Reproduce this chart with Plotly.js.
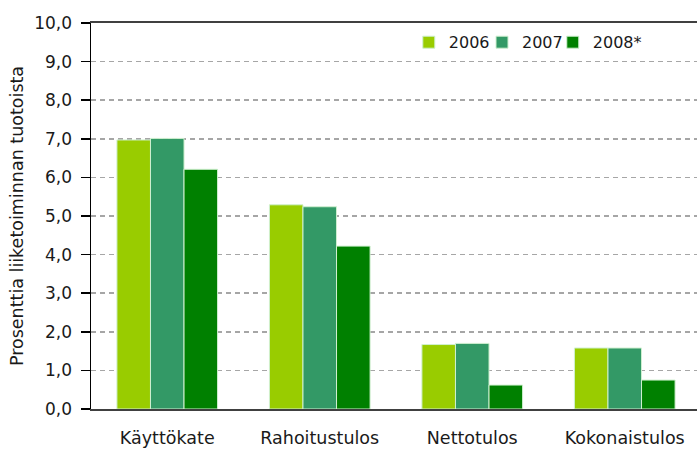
<!DOCTYPE html>
<html>
<head>
<meta charset="utf-8">
<script src="https://cdn.plot.ly/plotly-3.0.1.min.js"></script>
<style>
html,body{margin:0;padding:0;overflow:hidden;background:#fff;}
#chart{width:701px;height:450px;}
</style>
</head>
<body>
<div id="chart"></div>
<script>
const categories = ["Käyttökate", "Rahoitustulos", "Nettotulos", "Kokonaistulos"];
const seriesNames = ["2006", "2007", "2008*"];
const values2006 = [6.97, 5.29, 1.67, 1.58];
const values2007 = [7.01, 5.24, 1.70, 1.58];
const values2008 = [6.21, 4.22, 0.62, 0.75];
const colors = ["#99CC00", "#339966", "#008000"];
const yTicks = [0,1,2,3,4,5,6,7,8,9,10];

const legendIds = ["legend", "legend2", "legend3"];
const allValues = [values2006, values2007, values2008];
const traces = allValues.map((v, i) => ({
  type: "bar",
  name: seriesNames[i],
  x: categories,
  y: v,
  legend: legendIds[i],
  marker: {color: colors[i], line: {color: "#d0f0d0", width: 1}},
  hoverinfo: "x+y"
}));

const font = "DejaVu Sans, Verdana, sans-serif";
const legendX = [0.521, 0.641, 0.757];
function legendCfg(x) {
  return {
    orientation: "h",
    x: x, xanchor: "left",
    y: 0.95, yanchor: "middle",
    font: {family: font, size: 16, color: "#1a1a1a"},
    bgcolor: "rgba(0,0,0,0)",
    itemclick: false,
    itemwidth: 30
  };
}
const layout = {
  width: 701,
  height: 450,
  margin: {l: 91, r: 0, t: 23, b: 41},
  paper_bgcolor: "#ffffff",
  plot_bgcolor: "#ffffff",
  separators: ",.",
  barmode: "group",
  bargap: 0.34,
  bargroupgap: 0,
  font: {family: font, size: 17, color: "#1a1a1a"},
  showlegend: true,
  legend: legendCfg(legendX[0]),
  legend2: legendCfg(legendX[1]),
  legend3: legendCfg(legendX[2]),
  xaxis: {
    type: "category",
    showline: true,
    linecolor: "#404040",
    linewidth: 2,
    mirror: true,
    ticks: "",
    ticklabelstandoff: 12,
    tickfont: {family: font, size: 17.5, color: "#1a1a1a"},
    showgrid: false,
    zeroline: false
  },
  yaxis: {
    range: [0, 10],
    tickvals: yTicks,
    tickformat: ".1f",
    showline: true,
    linecolor: "#000000",
    linewidth: 1.5,
    ticks: "outside",
    ticklen: 9,
    tickwidth: 1.5,
    tickcolor: "#000000",
    ticklabelstandoff: 5,
    tickfont: {family: font, size: 17, color: "#1a1a1a"},
    showgrid: true,
    gridcolor: "#a6a6a6",
    gridwidth: 1.5,
    griddash: "5px,4px",
    zeroline: false,
    title: {text: "Prosenttia liiketoiminnan tuotoista", font: {family: font, size: 17.5, color: "#1a1a1a"}, standoff: 6}
  }
};

Plotly.newPlot("chart", traces, layout, {displayModeBar: false, staticPlot: true});
</script>
</body>
</html>
